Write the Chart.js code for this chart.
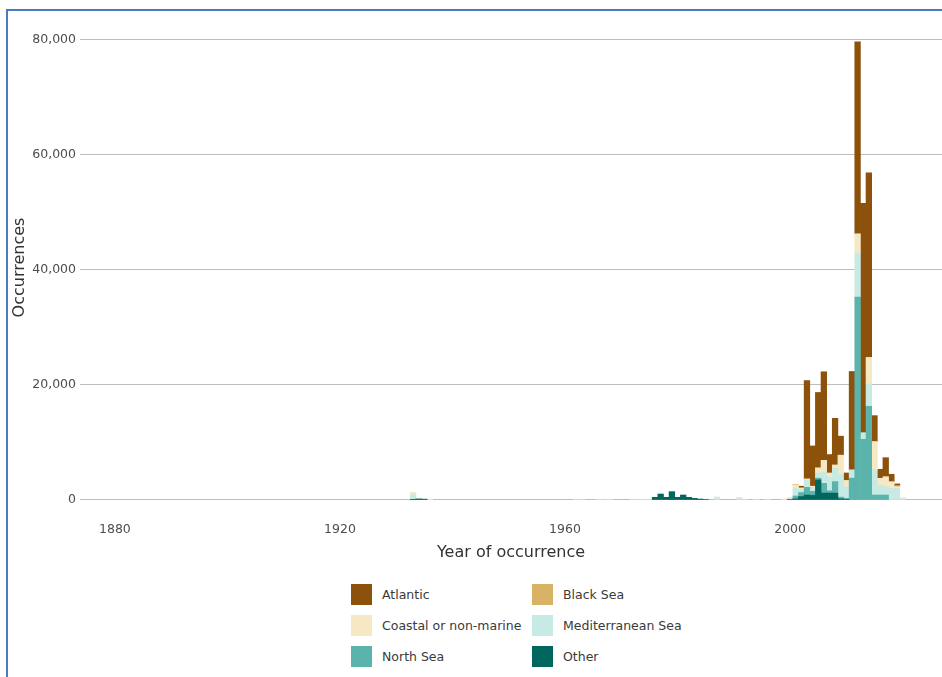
<!DOCTYPE html>
<html lang="en">
<head>
<meta charset="UTF-8">
<title>Occurrences by year</title>
<script src="https://cdn.jsdelivr.net/npm/chart.js"></script>
<style>
    body {
        margin: 0;
        background: #fff;
        font-family: "DejaVu Sans", sans-serif;
        width: 942px;
        height: 677px;
        overflow: hidden;
        position: relative;
    }
    .frame {
        position: absolute;
        left: 6px;
        top: 9px;
        width: 980px;
        height: 720px;
        border: 2px solid #4a7bc2;
    }
    .chart-box {
        position: absolute;
        left: 0;
        top: 0;
        width: 942px;
        height: 580px;
    }
    #legend {
        position: absolute;
        left: 351px;
        top: 584px;
        display: grid;
        grid-template-columns: 181px 200px;
        row-gap: 10px;
        font-size: 12.5px;
        color: #3a3a3a;
    }
    .item {
        display: flex;
        align-items: center;
        height: 21px;
    }
    .swatch {
        width: 21px;
        height: 21px;
        margin-right: 10px;
    }
</style>
</head>
<body>
<div class="frame"></div>
<div class="chart-box"><canvas id="chart"></canvas></div>
<div id="legend"></div>

<script>
// years with at least one record
const years = [1933, 1934, 1935, 1936, 1962, 1963, 1966, 1967, 1968, 1972, 1973, 1974, 1975,
    1976, 1977, 1978, 1979, 1980, 1981, 1982, 1983, 1984, 1985, 1987, 1991, 1992, 1994, 1996, 1999,
    2000, 2001, 2002, 2003, 2004, 2005, 2006, 2007, 2008, 2009, 2010,
    2011, 2012, 2013, 2014, 2015, 2016, 2017, 2018, 2019, 2020];

const other =    [50, 200, 150, 0, 0, 0, 0, 0, 0, 0, 0, 0, 0,
    460, 1040, 460, 1450, 460, 870, 460, 290, 170, 100, 0, 0, 0, 0, 0, 0,
    100, 200, 600, 870, 800, 3500, 1200, 1200, 1200, 200, 100,
    0, 0, 0, 0, 0, 0, 0, 0, 0, 0];
const northSea = [0, 0, 0, 0, 0, 0, 0, 0, 0, 0, 0, 0, 0,
    0, 0, 0, 0, 0, 0, 0, 0, 0, 0, 0, 0, 0, 0, 0, 0,
    0, 500, 700, 1330, 700, 300, 1700, 400, 2000, 300, 200,
    3800, 35300, 10550, 16300, 870, 870, 870, 0, 0, 0];
const mediterranean = [900, 0, 0, 0, 80, 80, 60, 80, 60, 100, 100, 120, 150,
    0, 0, 0, 0, 0, 0, 0, 0, 0, 50, 350, 250, 100, 120, 100, 100,
    100, 1400, 500, 1270, 700, 900, 2000, 2400, 2300, 4000, 2000,
    1450, 7700, 1160, 3900, 4400, 1700, 1450, 2030, 2000, 200];
const coastal =  [400, 0, 0, 60, 0, 0, 0, 0, 0, 0, 0, 0, 0,
    0, 0, 0, 0, 0, 0, 0, 0, 0, 0, 200, 200, 0, 0, 0, 100,
    250, 500, 300, 200, 200, 900, 2000, 700, 600, 3300, 1100,
    0, 3300, 0, 4600, 4900, 1200, 1740, 1160, 300, 200];
const blackSea = [0, 0, 0, 0, 0, 0, 0, 0, 0, 0, 0, 0, 0,
    0, 0, 0, 0, 0, 0, 0, 0, 0, 0, 0, 0, 0, 0, 0, 0,
    0, 100, 0, 0, 0, 0, 0, 0, 0, 0, 0,
    0, 0, 0, 0, 0, 0, 0, 0, 200, 0];
const atlantic = [0, 0, 0, 0, 0, 0, 0, 0, 0, 0, 0, 0, 0,
    0, 0, 0, 0, 0, 0, 0, 0, 0, 0, 0, 0, 0, 0, 0, 0,
    0, 0, 300, 17100, 7000, 13100, 15400, 3200, 8100, 3300, 1300,
    17100, 33400, 39900, 32100, 4500, 1570, 3300, 1280, 300, 0];

const xTicks = [1880, 1920, 1960, 2000];
const yTicks = [0, 20000, 40000, 60000, 80000];

// bottom of the stack first
const series = [
    { label: 'Other', values: other, color: '#01665e' },
    { label: 'North Sea', values: northSea, color: '#5ab4ac' },
    { label: 'Mediterranean Sea', values: mediterranean, color: '#c7eae5' },
    { label: 'Coastal or non-marine', values: coastal, color: '#f6e8c3' },
    { label: 'Black Sea', values: blackSea, color: '#d8b365' },
    { label: 'Atlantic', values: atlantic, color: '#8c510a' }
];
const legendOrder = ['Atlantic', 'Black Sea', 'Coastal or non-marine', 'Mediterranean Sea', 'North Sea', 'Other'];

Chart.defaults.font.family = '"DejaVu Sans", sans-serif';

const chart = new Chart(document.getElementById('chart'), {
    type: 'bar',
    data: {
        datasets: series.map(s => ({
            label: s.label,
            // empty years are skipped so no hairline shows on the baseline
            data: years.map((y, i) => ({ x: y, y: s.values[i] || null })),
            backgroundColor: s.color,
            borderWidth: 0,
            categoryPercentage: 1,
            barPercentage: 1
        }))
    },
    options: {
        responsive: true,
        maintainAspectRatio: false,
        animation: false,
        layout: { padding: { top: 18, right: 0, left: 0, bottom: 0 } },
        plugins: { legend: { display: false }, tooltip: { enabled: false } },
        scales: {
            x: {
                type: 'linear',
                stacked: true,
                offset: false,
                min: 1873.8,
                max: 2027,
                afterBuildTicks: axis => { axis.ticks = xTicks.map(v => ({ value: v })); },
                afterFit: axis => { axis.height = 63; },
                grid: { display: false, drawTicks: false },
                border: { display: false },
                ticks: {
                    color: '#4d4d4d',
                    font: { size: 12.5 },
                    padding: 5,
                    maxRotation: 0,
                    callback: v => String(v)
                },
                title: {
                    display: true,
                    text: 'Year of occurrence',
                    color: '#333',
                    font: { size: 16 },
                    padding: { top: 0, bottom: 18 }
                }
            },
            y: {
                stacked: true,
                min: -2957,
                max: 83826,
                afterBuildTicks: axis => { axis.ticks = yTicks.map(v => ({ value: v })); },
                afterFit: axis => { axis.width = 80; },
                grid: { color: '#bdbdbd', lineWidth: 1, drawTicks: false },
                border: { display: false },
                ticks: {
                    color: '#4d4d4d',
                    font: { size: 12.5 },
                    padding: 4,
                    callback: v => v.toLocaleString('en-US')
                },
                title: {
                    display: true,
                    text: 'Occurrences',
                    color: '#333',
                    font: { size: 16 },
                    padding: { top: 10, bottom: 0 }
                }
            }
        }
    }
});

// legend in two columns, built from the chart's datasets
const legend = document.getElementById('legend');
legendOrder.forEach(name => {
    const ds = chart.data.datasets.find(d => d.label === name);
    const item = document.createElement('div');
    item.className = 'item';
    const sw = document.createElement('span');
    sw.className = 'swatch';
    sw.style.background = ds.backgroundColor;
    const txt = document.createElement('span');
    txt.textContent = ds.label;
    item.appendChild(sw);
    item.appendChild(txt);
    legend.appendChild(item);
});
</script>
</body>
</html>
